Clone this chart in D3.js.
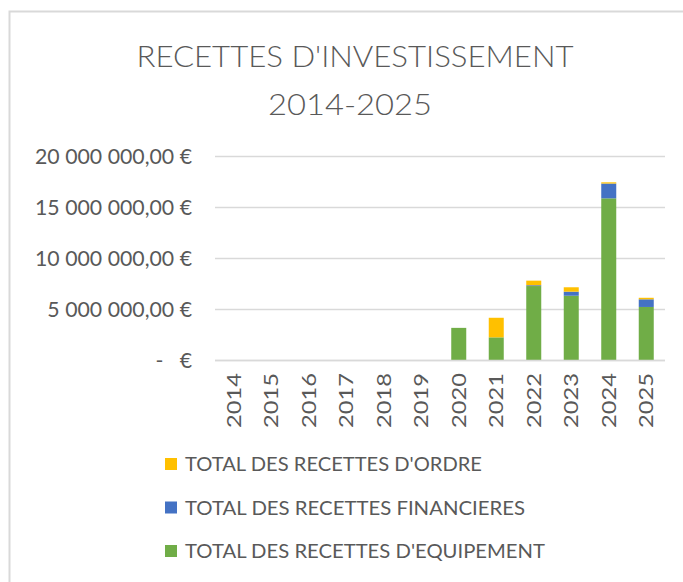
<!DOCTYPE html>
<html>
<head>
<meta charset="utf-8">
<script src="https://cdn.jsdelivr.net/npm/d3@7"></script>
<style>
  html, body { margin: 0; padding: 0; background: #fff; }
  svg { display: block; }
  text { font-family: Lato, "Open Sans", sans-serif; fill: #595959; }
</style>
</head>
<body>
<svg id="chart" width="683" height="582"></svg>
<script>
// Investment receipts by year, in euros
const years = ["2014","2015","2016","2017","2018","2019","2020","2021","2022","2023","2024","2025"];
const equipement  = [0, 0, 0, 0, 0, 0, 3150000, 2220000, 7250000, 6300000, 15850000, 5200000];
const financieres = [0, 0, 0, 0, 0, 0, 0, 0, 80000, 400000, 1450000, 750000];
const ordre       = [0, 0, 0, 0, 0, 0, 0, 1920000, 450000, 430000, 120000, 150000];
const seriesNames = ["TOTAL DES RECETTES D'EQUIPEMENT", "TOTAL DES RECETTES FINANCIERES", "TOTAL DES RECETTES D'ORDRE"];
const seriesColors = ["#70AD47", "#4472C4", "#FFC000"];
const yTicks = [0, 5000000, 10000000, 15000000, 20000000];
const titleLines = ["RECETTES D'INVESTISSEMENT", "2014-2025"];

const svg = d3.select("#chart");
const plot = { left: 215, right: 665, top: 156, bottom: 360 };

// chart frame
svg.append("rect")
  .attr("x", 9.5).attr("y", 11.5)
  .attr("width", 700).attr("height", 600)
  .attr("fill", "#fff").attr("stroke", "#d9d9d9").attr("stroke-width", 2);

// title
const titleSpecs = [{ y: 67, w: 437, cx: 355 }, { y: 115, w: 164, cx: 350 }];
titleLines.forEach((t, i) => {
  svg.append("text")
    .attr("x", titleSpecs[i].cx).attr("y", titleSpecs[i].y)
    .attr("text-anchor", "middle")
    .attr("font-size", 30)
    .attr("font-weight", 300)
    .attr("textLength", titleSpecs[i].w)
    .attr("lengthAdjust", "spacingAndGlyphs")
    .text(t);
});

const x = d3.scaleBand().domain(years).range([plot.left, plot.right]).paddingInner(0.6).paddingOuter(0.3);
const y = d3.scaleLinear().domain([0, 20000000]).range([plot.bottom, plot.top]);

const fr = d3.formatLocale({ decimal: ",", thousands: "\u00a0", grouping: [3], currency: ["", "\u00a0€"] });
const fmt = fr.format(",.2f");
const tickFmt = v => v === 0 ? "-\u00a0\u00a0\u00a0€" : fmt(v) + "\u00a0€";

// gridlines and value labels
const yAxis = d3.axisLeft(y).tickValues(yTicks).tickFormat(tickFmt)
  .tickSize(-(plot.right - plot.left)).tickPadding(23);
const gy = svg.append("g").attr("transform", `translate(${plot.left},0)`).call(yAxis);
gy.select(".domain").remove();
gy.selectAll(".tick line").attr("stroke", "#d9d9d9").attr("stroke-width", 1.3);
gy.selectAll(".tick text")
  .attr("font-size", 21)
  .attr("font-family", "Lato, sans-serif")
  .attr("fill", "#595959")
  .attr("dy", "0.36em");

// stacked bars
const rows = years.map((yr, i) => ({ year: yr, s0: equipement[i], s1: financieres[i], s2: ordre[i] }));
const stack = d3.stack().keys(["s0", "s1", "s2"]);
const layers = stack(rows);
svg.append("g").selectAll("g").data(layers).join("g")
  .attr("fill", (d, i) => seriesColors[i])
  .selectAll("rect").data(d => d).join("rect")
  .attr("x", d => x(d.data.year))
  .attr("width", x.bandwidth())
  .attr("y", d => y(d[1]))
  .attr("height", d => y(d[0]) - y(d[1]));

// category axis
const xAxis = d3.axisBottom(x).tickSize(0).tickPadding(0);
const gx = svg.append("g").attr("transform", `translate(0,${plot.bottom})`).call(xAxis);
gx.select(".domain").attr("stroke", "#d9d9d9").attr("stroke-width", 1.3)
  .attr("d", `M${plot.left},0.5H${plot.right}`);
gx.selectAll(".tick text")
  .attr("font-size", 20)
  .attr("font-family", "Lato, sans-serif")
  .attr("fill", "#595959")
  .attr("text-anchor", "end")
  .attr("y", 0).attr("dy", 0)
  .attr("transform", "translate(7,13) rotate(-90)")
  .attr("textLength", 55)
  .attr("lengthAdjust", "spacingAndGlyphs");

// legend (top to bottom: ordre, financières, équipement)
const legendOrder = [2, 1, 0];
const legendWidths = [297, 340, 360];
const lg = svg.append("g");
legendOrder.forEach((si, r) => {
  const by = 471 + r * 43.5;
  lg.append("rect")
    .attr("x", 165).attr("y", by - 13)
    .attr("width", 12).attr("height", 12)
    .attr("fill", seriesColors[si]);
  lg.append("text")
    .attr("x", 185).attr("y", by)
    .attr("font-size", 20)
    .attr("textLength", legendWidths[r])
    .attr("lengthAdjust", "spacingAndGlyphs")
    .text(seriesNames[si]);
});

// stretch the value labels so the widest one spans 157px
const labels = gy.selectAll(".tick text");
const widest = d3.max(labels.nodes(), n => n.getComputedTextLength());
const k = 157 / widest;
labels.each(function () {
  const w = this.getComputedTextLength();
  d3.select(this).attr("textLength", w * k).attr("lengthAdjust", "spacingAndGlyphs");
});
</script>
</body>
</html>
